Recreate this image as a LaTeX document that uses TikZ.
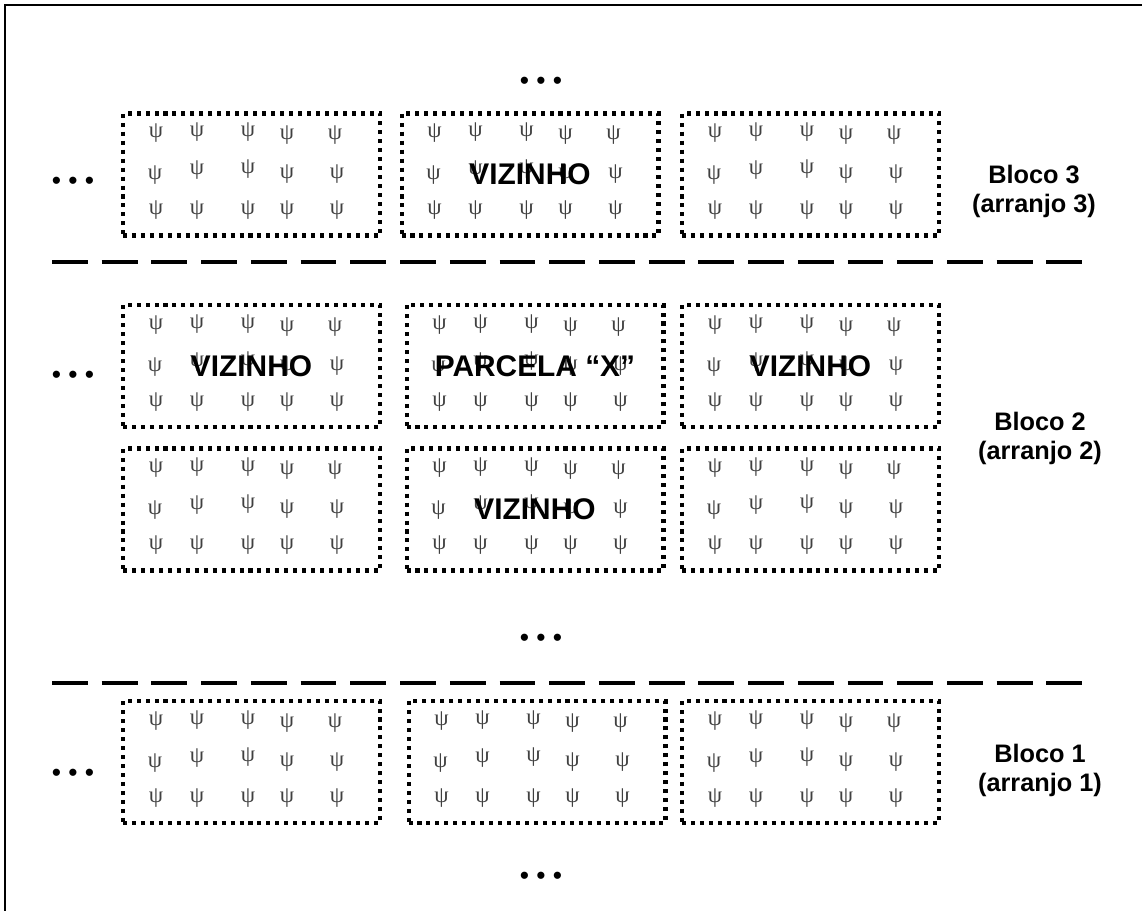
\documentclass[tikz,border=0pt]{standalone}
\usepackage{fontspec}
\setmainfont{Liberation Sans}
\newfontfamily\psifont{Liberation Serif}
\usetikzlibrary{positioning}

\begin{document}
\begin{tikzpicture}[x=0.02cm, y=-0.02cm,
  parcela/.style={rectangle, draw, line width=2.3pt, dash pattern=on 2.3pt off 2.8pt,
    minimum width=5.14cm, minimum height=2.44cm, inner sep=0pt, outer sep=0pt},
  psi/.style={inner sep=0pt, text=black!75, font=\psifont\fontsize{13}{14}\selectfont},
  rotulo/.style={inner sep=0pt, font=\bfseries\fontsize{17}{18}\selectfont},
  bloco/.style={align=center, inner sep=0pt, font=\bfseries\fontsize{14.4}{16.5}\selectfont},
  pontos/.style={inner sep=0pt, font=\fontsize{15}{16}\selectfont},
  separador/.style={line width=2.3pt, dash pattern=on 20.4pt off 7.9pt}
]
\useasboundingbox (0,0) rectangle (1142,911);
\draw[line width=1.1pt] (5,911) -- (5,5) -- (1142,5);

% bloco 3
\node[parcela] (b3a) at (251.5,174.5) {};
\node[parcela] (b3b) at (530,174.5) {};
\node[parcela] (b3c) at (810.5,174.5) {};

% bloco 2
\node[parcela] (b2a) at (251.5,366) {};
\node[parcela] (b2b) at (535,366) {};
\node[parcela] (b2c) at (810.5,366) {};
\node[parcela] (b2d) at (251.5,509.5) {};
\node[parcela] (b2e) at (535,509.5) {};
\node[parcela] (b2f) at (810.5,509.5) {};

% bloco 1
\node[parcela] (b1a) at (251.5,762) {};
\node[parcela] (b1b) at (537,762) {};
\node[parcela] (b1c) at (810.5,762) {};

% plantas
\foreach \p in {b3a,b3b,b3c,b2a,b2b,b2c,b2d,b2e,b2f,b1a,b1b,b1c}
  \foreach \dx/\dy [count=\i] in {33/20,74/19,125/19,164/22,212/22,
                                  32/62,74/57,125/56,164/61,214/61,
                                  33/97,74/97,125/97,164/97,214/97}
    \node[psi] (\p-\i) at ([shift={(\dx,\dy)}]\p.north west) {ψ};

\node[rotulo] (viz1) at (b3b) {VIZINHO};
\node[rotulo] (viz2) at (b2a) {VIZINHO};
\node[rotulo] (parx) at (b2b) {PARCELA “X”};
\node[rotulo] (viz3) at (b2c) {VIZINHO};
\node[rotulo] (viz4) at (b2e) {VIZINHO};

\draw[separador] (52,262) -- (1085,262);
\draw[separador] (52,683) -- (1090,683);

\node[bloco] (lb3) at (1034,191) {Bloco 3\\(arranjo 3)};
\node[bloco] (lb2) at (1040,438) {Bloco 2\\(arranjo 2)};
\node[bloco] (lb1) at (1040,770) {Bloco 1\\(arranjo 1)};

\node[pontos] (ptop) at (541,83) {• • •};
\node[pontos] (pmid) at (541,640) {• • •};
\node[pontos] (pbot) at (541,878) {• • •};
\node[pontos] (pl3) at (73,183) {• • •};
\node[pontos] (pl2) at (73,377) {• • •};
\node[pontos] (pl1) at (73,775) {• • •};
\end{tikzpicture}
\end{document}
